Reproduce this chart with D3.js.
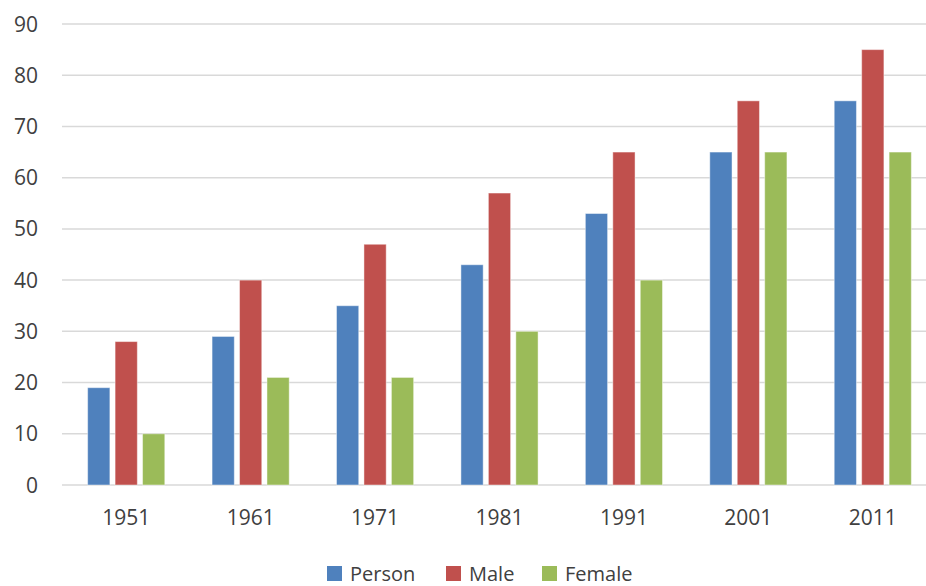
<!DOCTYPE html>
<html>
<head>
<meta charset="utf-8">
<script src="https://cdn.jsdelivr.net/npm/d3@7"></script>
<style>
  body { margin: 0; background: #fff; }
  text { font-family: 'Open Sans', sans-serif; fill: #404040; }
</style>
</head>
<body>
<div id="chart"></div>
<script>
const years = ['1951', '1961', '1971', '1981', '1991', '2001', '2011'];
const seriesNames = ['Person', 'Male', 'Female'];
const person = [19, 29, 35, 43, 53, 65, 75];
const male = [28, 40, 47, 57, 65, 75, 85];
const female = [10, 21, 21, 30, 40, 65, 65];
const yTicks = [0, 10, 20, 30, 40, 50, 60, 70, 80, 90];

const width = 926;
const height = 586;
const colors = {Person: '#4F81BD', Male: '#C0504D', Female: '#9BBB59'};
const fontSize = '21px';

const rows = years.map((y, i) => ({year: y, Person: person[i], Male: male[i], Female: female[i]}));

const svg = d3.select('#chart').append('svg')
    .attr('width', width)
    .attr('height', height);

const x0 = d3.scaleBand()
    .domain(years)
    .range([64, 935])
    .paddingInner(0.38)
    .paddingOuter(0.19);

const x1 = d3.scaleBand()
    .domain(seriesNames)
    .range([0, x0.bandwidth()])
    .paddingInner(0.19);

const yScale = d3.scaleLinear()
    .domain([0, 90])
    .range([485, 24]);

// gridlines
svg.append('g')
    .selectAll('line')
    .data(yTicks)
    .join('line')
    .attr('x1', 62)
    .attr('x2', 935)
    .attr('y1', d => yScale(d))
    .attr('y2', d => yScale(d))
    .attr('stroke', '#d9d9d9')
    .attr('stroke-width', 1.5);

// y labels
svg.append('g')
    .selectAll('text')
    .data(yTicks)
    .join('text')
    .attr('x', 38)
    .attr('y', d => yScale(d))
    .attr('dy', '0.36em')
    .attr('text-anchor', 'end')
    .style('font-size', fontSize)
    .text(d => d);

// bars
const groups = svg.append('g')
    .selectAll('g')
    .data(rows)
    .join('g')
    .attr('transform', d => `translate(${x0(d.year)},0)`);

groups.selectAll('rect')
    .data(d => seriesNames.map(k => ({key: k, value: d[k]})))
    .join('rect')
    .attr('x', d => x1(d.key))
    .attr('width', x1.bandwidth())
    .attr('y', d => yScale(d.value))
    .attr('height', d => yScale(0) - yScale(d.value))
    .attr('fill', d => colors[d.key])
    .attr('stroke', 'rgba(255,255,255,0.45)')
    .attr('stroke-width', 1);

// x labels
svg.append('g')
    .selectAll('text')
    .data(years)
    .join('text')
    .attr('x', d => x0(d) + x0.bandwidth() / 2)
    .attr('y', 525)
    .attr('text-anchor', 'middle')
    .style('font-size', fontSize)
    .text(d => d);

// legend
const legendX = [327, 446, 542];
const legend = svg.append('g')
    .selectAll('g')
    .data(seriesNames)
    .join('g')
    .attr('transform', (d, i) => `translate(${legendX[i]},566)`);

legend.append('rect')
    .attr('width', 15)
    .attr('height', 15)
    .attr('fill', d => colors[d]);

legend.append('text')
    .attr('x', 23)
    .attr('y', 15)
    .style('font-size', '20px')
    .text(d => d);
</script>
</body>
</html>
